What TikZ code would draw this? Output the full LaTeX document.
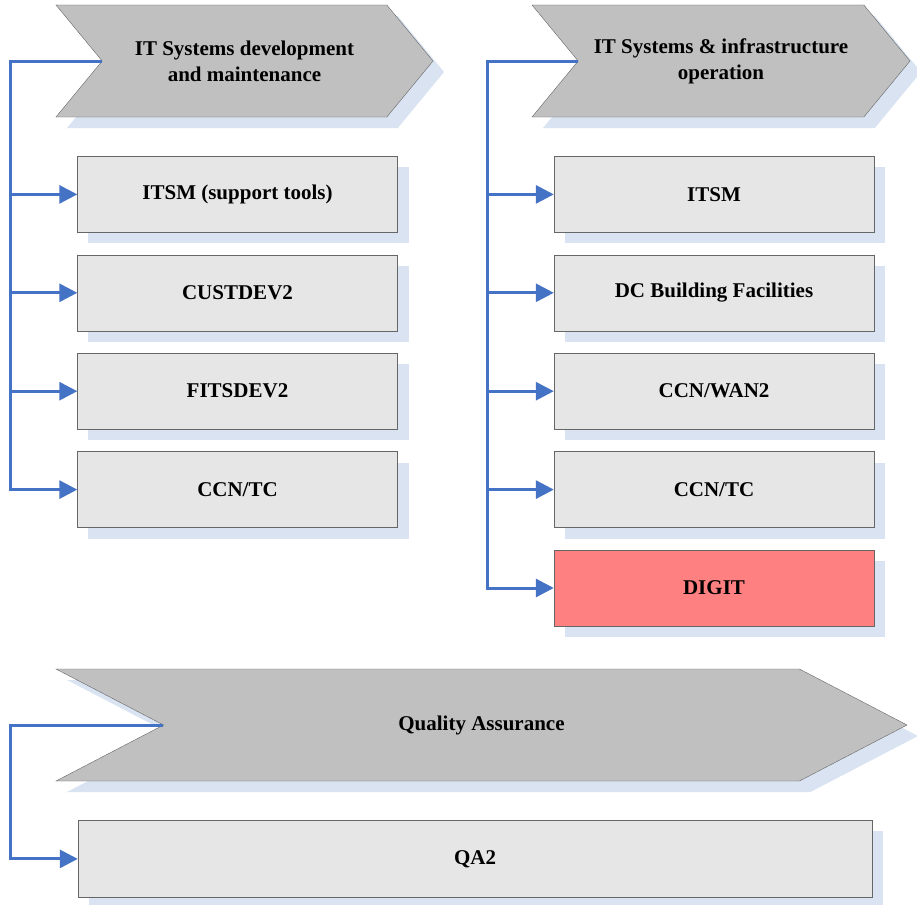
\documentclass[tikz,border=0pt]{standalone}
\usepackage{fontspec}
\setmainfont{Liberation Serif}
\usetikzlibrary{positioning, arrows.meta, shapes.symbols, shadows}
\definecolor{linkblue}{RGB}{68,114,196}
\definecolor{shadeblue}{RGB}{218,227,242}
\definecolor{boxgray}{RGB}{230,230,230}
\definecolor{chevgray}{RGB}{192,192,192}
\definecolor{digitred}{RGB}{255,128,128}

\begin{document}
\begin{tikzpicture}[
        x=1bp, y=1bp,
        node distance=22bp,
        base/.style={draw=black!60, align=center, font=\fontsize{21bp}{26bp}\selectfont\bfseries, inner sep=0pt,
            drop shadow={shadow xshift=11bp, shadow yshift=-11bp, fill=shadeblue, opacity=1, draw=none}},
        chev/.style={base, shape=signal, signal from=west, signal to=east, fill=chevgray, minimum height=112bp},
        item/.style={base, fill=boxgray, minimum width=320bp, minimum height=76bp},
        arr/.style={-{Triangle[length=18bp, width=18bp]}, linkblue, line width=3bp}
    ]
    \useasboundingbox (0,0) rectangle (917,-905);
    \coordinate (lspine) at (10,0);
    \coordinate (rspine) at (487,0);
    % Phase 1: development
    \node[chev, signal pointer angle=101, minimum width=377bp] (dev) at (244.5,-61) {IT Systems development\\and maintenance};
    \node[item, below=39bp of dev, xshift=-7bp] (tools) {ITSM (support tools)};
    \node[item, below=of tools] (cust) {CUSTDEV2};
    \node[item, below=of cust] (fits) {FITSDEV2};
    \node[item, below=of fits] (devccn) {CCN/TC};
    % Phase 2: operation
    \node[chev, signal pointer angle=101, minimum width=378bp] (ops) at (721,-61) {IT Systems \& infrastructure\\operation};
    \node[item, below=39bp of ops, xshift=-7bp] (itsm) {ITSM};
    \node[item, below=of itsm] (dcbf) {DC Building Facilities};
    \node[item, below=of dcbf] (wan) {CCN/WAN2};
    \node[item, below=of wan] (opsccn) {CCN/TC};
    \node[item, below=of opsccn, fill=digitred] (digit) {DIGIT};
    % Phase 3: quality
    \node[chev, signal pointer angle=55, minimum width=851bp] (qa) at (481.5,-725) {Quality Assurance};
    \node[item, below=39bp of qa, xshift=-6.5bp, minimum width=794bp, minimum height=77bp] (qa2) {QA2};

    \foreach \b in {tools, cust, fits, devccn}
        \draw[arr] (dev.west) -- (dev.west -| lspine) |- (\b);
    \foreach \b in {itsm, dcbf, wan, opsccn, digit}
        \draw[arr] (ops.west) -- (ops.west -| rspine) |- (\b);
    \draw[arr] (qa.west) -- (qa.west -| lspine) |- (qa2);
\end{tikzpicture}
\end{document}
